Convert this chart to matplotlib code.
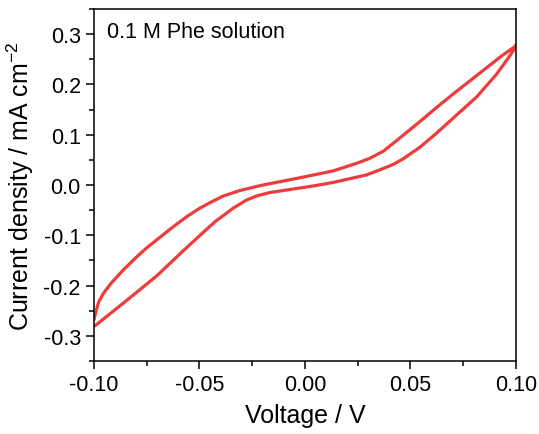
import matplotlib.pyplot as plt
from matplotlib.ticker import MultipleLocator

plt.rcParams['font.family'] = ['Liberation Sans', 'DejaVu Sans']
plt.rcParams['mathtext.fontset'] = 'custom'
plt.rcParams['mathtext.rm'] = 'Liberation Sans'

# anodic branch (upper), left -> right
v_up = [-0.1, -0.0993, -0.0978, -0.0956, -0.092, -0.0861, -0.08, -0.075, -0.0693,
        -0.0624, -0.056, -0.0498, -0.044, -0.0387, -0.0308, -0.0198, -0.0039, 0.0134,
        0.0245, 0.0308, 0.0371, 0.0434, 0.0498, 0.0545, 0.0624, 0.0703, 0.0782,
        0.0861, 0.094, 0.0995, 0.1]
j_up = [-0.268, -0.255, -0.233, -0.216, -0.196, -0.169, -0.144, -0.125, -0.106,
        -0.083, -0.063, -0.046, -0.033, -0.022, -0.011, 0.0, 0.013, 0.028,
        0.043, 0.053, 0.067, 0.088, 0.110, 0.126, 0.154, 0.181, 0.207,
        0.233, 0.259, 0.275, 0.278]

# cathodic branch (lower), right -> left
v_dn = [0.1, 0.0995, 0.0972, 0.0908, 0.0814, 0.0703, 0.0624, 0.0545, 0.0466, 0.0419,
        0.0355, 0.0292, 0.0197, 0.0134, 0.0039, -0.007, -0.0166, -0.023, -0.0277,
        -0.0308, -0.034, -0.0371, -0.042, -0.0466, -0.0577, -0.0703, -0.0861, -0.0995]
j_dn = [0.278, 0.272, 0.257, 0.220, 0.175, 0.133, 0.103, 0.075, 0.052, 0.041,
        0.030, 0.020, 0.011, 0.005, -0.002, -0.009, -0.015, -0.022, -0.030,
        -0.038, -0.046, -0.056, -0.071, -0.088, -0.131, -0.181, -0.235, -0.280]

fig = plt.figure(figsize=(5.39, 4.35), dpi=100)
ax = fig.add_axes([0.1744, 0.168, 0.7826, 0.809])

ax.plot(v_up + v_dn, j_up + j_dn, color='#EE3B3B', linewidth=2.3,
        solid_joinstyle='round', solid_capstyle='round')

ax.set_xlim(-0.1, 0.1)
ax.set_ylim(-0.35, 0.35)
ax.xaxis.set_major_locator(MultipleLocator(0.05))
ax.xaxis.set_minor_locator(MultipleLocator(0.025))
ax.yaxis.set_major_locator(MultipleLocator(0.1))
ax.yaxis.set_minor_locator(MultipleLocator(0.05))
ax.xaxis.set_major_formatter(plt.FuncFormatter(lambda v, p: f'{v:.2f}'))
ax.yaxis.set_major_formatter(plt.FuncFormatter(lambda v, p: f'{v:.1f}'))

ax.tick_params(which='both', direction='out', top=False, right=False, labelsize=15.5, width=1.1)
ax.tick_params(which='major', length=6)
ax.tick_params(which='minor', length=3.5)
for s in ax.spines.values():
    s.set_linewidth(1.1)

ax.set_xlabel('Voltage / V', fontsize=18, labelpad=6)
ax.set_ylabel('Current density / mA cm$^{-2}$', fontsize=18, labelpad=5)

ax.text(0.03, 0.935, '0.1 M Phe solution', transform=ax.transAxes, fontsize=15.5,
        ha='left', va='center')

fig.savefig('out.png', dpi=100)
